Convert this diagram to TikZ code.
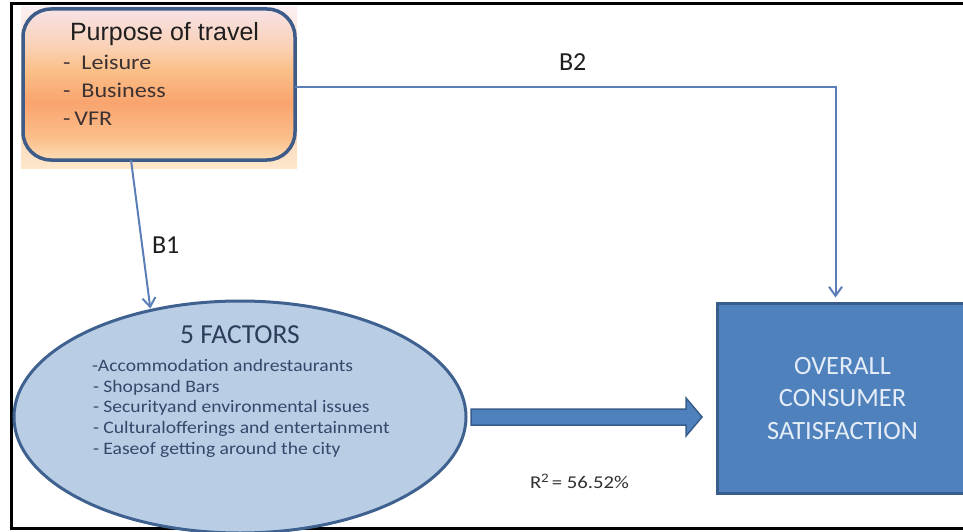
\documentclass[tikz,border=0pt]{standalone}
\usepackage{fontspec}
\setmainfont{Carlito}
\newfontfamily\arialfont{Liberation Sans}
\newfontfamily\widefont[FakeStretch=1.15]{Carlito}
\newfontfamily\midfont[FakeStretch=1.12]{Carlito}
\usetikzlibrary{shapes.geometric,arrows.meta,calc}

% palette
\definecolor{tptop}{HTML}{F6E2E6}
\definecolor{tpupper}{HTML}{FAD2B8}
\definecolor{tpmid}{HTML}{FBC089}
\definecolor{tpdeep}{HTML}{F9A46E}
\definecolor{tplow}{HTML}{FBBF8C}
\definecolor{tpbot}{HTML}{FCDDB5}
\colorlet{hztop}{tptop!55!white}
\colorlet{hzmid}{tpmid!55!white}
\colorlet{hzdeep}{tpdeep!55!white}
\colorlet{hzbot}{tpbot!70!white}
\definecolor{boxedge}{HTML}{3E5C89}
\definecolor{ovalfill}{HTML}{B9CDE5}
\definecolor{ovaledge}{HTML}{3F618F}
\definecolor{blueone}{HTML}{4F81BD}
\definecolor{blueedge}{HTML}{385D8A}
\definecolor{boxtext}{HTML}{E4EDF7}
\definecolor{connblue}{HTML}{5B7EB6}
\definecolor{ovalink}{HTML}{2C3E5A}
\definecolor{ovalitem}{HTML}{34496A}
\definecolor{titleink}{HTML}{1E1E1E}
\definecolor{itemink}{HTML}{3D3232}
\definecolor{rink}{HTML}{303030}

% warm fill of the travel box, bottom (25bp) to top (75bp)
\pgfdeclareverticalshading{travelshade}{100bp}{%
  color(0bp)=(tpbot); color(25bp)=(tpbot); color(32bp)=(tplow);
  color(44bp)=(tpdeep); color(55bp)=(tpmid); color(63bp)=(tpupper);
  color(75bp)=(tptop); color(100bp)=(tptop)}
% paler version for the square glow behind it
\pgfdeclareverticalshading{travelhaze}{100bp}{%
  color(0bp)=(hzbot); color(25bp)=(hzbot); color(44bp)=(hzdeep);
  color(55bp)=(hzmid); color(75bp)=(hztop); color(100bp)=(hztop)}

\tikzset{
  conn/.style={draw=connblue, line width=2pt,
    -{Straight Barb[length=9pt,width=13pt]}},
  lbl/.style={anchor=base west, inner sep=0, outer sep=0},
  travelitem/.style={lbl, text=itemink, font=\widefont\fontsize{21}{25}\selectfont},
  factoritem/.style={lbl, text=ovalitem, font=\midfont\fontsize{17.5}{20}\selectfont},
  pathlabel/.style={lbl, text=titleink, font=\fontsize{26}{30}\selectfont},
}

\begin{document}
\begin{tikzpicture}[x=1pt, y=-1pt]
\useasboundingbox (0,0) rectangle (963,532);

% outer frame
\draw[line width=3pt] (975,4) -- (11,4) -- (11,528) -- (975,528);

% purpose of travel box
\fill[shading=travelhaze] (21,7) rectangle (297,168);
\node[rounded corners=28pt, draw=boxedge, line width=3.5pt, shading=travelshade,
      minimum width=272pt, minimum height=151pt, inner sep=0, outer sep=0,
      anchor=north west] (purpose) at (23,9) {};
\node[lbl, text=titleink, font=\arialfont\fontsize{25}{30}\selectfont]
  (ptitle) at (70,41) {Purpose of travel};
\node[travelitem] (leisure) at (63,70) {-\hspace{11pt}Leisure};
\node[travelitem] (business) at (63,98) {-\hspace{11pt}Business};
\node[travelitem] (vfr) at (63,125) {-\hspace{4pt}VFR};

% five factors
\node[ellipse, draw=ovaledge, line width=3pt, fill=ovalfill,
      minimum width=452pt, minimum height=232pt, inner sep=0, outer sep=0]
  (factors) at (240,417) {};
\node[anchor=base, inner sep=0, text=ovalink, font=\fontsize{27.5}{33}\selectfont]
  (ftitle) at (240,343) {5 FACTORS};
\node[factoritem] (f1) at (92,371) {-Accommodation andrestaurants};
\node[factoritem] (f2) at (93,392) {- Shopsand Bars};
\node[factoritem] (f3) at (93,412) {- Securityand environmental issues};
\node[factoritem] (f4) at (93,433) {- Culturalofferings and entertainment};
\node[factoritem] (f5) at (93,454) {- Easeof getting around the city};

% overall satisfaction
\node[draw=blueedge, line width=3pt, fill=blueone, minimum width=250pt,
      minimum height=190pt, inner sep=0, outer sep=0, anchor=north west,
      text=boxtext, align=center, font=\fontsize{26.4}{32.5}\selectfont]
  (overall) at (717.5,303.5) {OVERALL\\CONSUMER\\SATISFACTION};

% connectors
\coordinate (b1start) at ([xshift=108pt]purpose.south west);
\coordinate (b2end) at ([xshift=118pt]overall.north west);
\draw[conn, shorten >=2pt] (b1start) -- (factors.130);
\draw[conn, shorten >=6pt] ([yshift=-2.5pt]purpose.east)
  -- ([yshift=-2.5pt]purpose.east -| b2end) -- (b2end);

% block arrow from the factors to satisfaction
\draw[draw=blueedge, line width=1.5pt, fill=blueone, line join=miter]
  ($(factors.east)+(5,-8)$) -- ++(215,0) -- ++(0,-11) -- ++(16,19)
  -- ++(-16,19) -- ++(0,-11) -- ++(-215,0) -- cycle;

% labels
\node[pathlabel] (lb1) at (152,253) {B1};
\node[pathlabel] (lb2) at (559,71) {B2};
\node[lbl, text=rink, font=\widefont\fontsize{18}{22}\selectfont]
  (rsq) at (530,488) {R\raisebox{0.62ex}{\fontsize{13}{13}\selectfont 2}\hspace{3pt}= 56.52\%};
\end{tikzpicture}
\end{document}
